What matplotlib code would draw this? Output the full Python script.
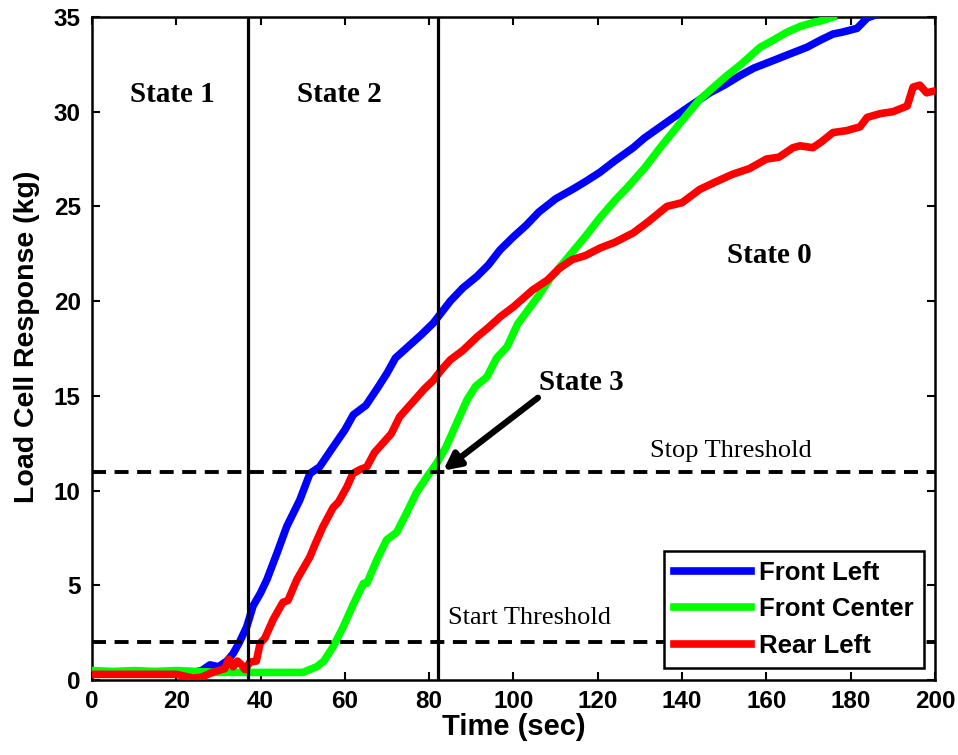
import numpy as np
import matplotlib
matplotlib.use("Agg")
import matplotlib.pyplot as plt

# Front Left (blue)
t_fl = [0, 5, 10, 15, 20, 24, 26, 28, 30, 32, 33.5, 35, 36.7, 38.2, 40, 41.5, 43.9, 46.2, 49.3, 51.7,
        54, 57.2, 60, 62, 65, 68, 70, 72, 75, 78, 81, 85, 88, 91.3, 94, 96.8, 100, 103, 106, 110,
        114, 117, 120.5, 124, 128.4, 131, 134.8, 138, 141.9, 146.6, 150, 153.7, 157, 161.6, 165,
        169.6, 173, 175.8, 178, 181.5, 183.9, 187]
v_fl = [0.35, 0.4, 0.35, 0.4, 0.35, 0.4, 0.5, 0.8, 0.7, 1.0, 1.4, 2.0, 2.8, 3.9, 4.6, 5.3, 6.7, 8.1, 9.5, 10.9,
        11.25, 12.3, 13.2, 14.0, 14.5, 15.5, 16.2, 17.0, 17.6, 18.2, 18.85, 20.0, 20.7, 21.3, 21.9, 22.7, 23.4, 24.0, 24.7, 25.4,
        25.9, 26.3, 26.8, 27.4, 28.1, 28.6, 29.2, 29.7, 30.3, 31.0, 31.4, 31.9, 32.3, 32.7, 33.0,
        33.4, 33.8, 34.1, 34.2, 34.4, 34.95, 35.2]

# Front Center (green)
t_fc = [0, 5, 10, 15, 20, 25, 30, 35, 40, 45, 50, 53.3, 55, 57.2, 59.6, 62, 64.4, 65.2, 67.5, 69.9,
        72.3, 74.6, 77, 79.4, 81.8, 84, 86.6, 89, 91, 93.7, 96, 98.5, 101, 103, 106, 108.7, 111, 114,
        117, 120.5, 124, 127, 131, 134.8, 138.8, 141, 144, 147, 150.6, 154, 158.5, 161, 164.9, 168,
        171, 173, 175.8]
v_fc = [0.5, 0.45, 0.5, 0.45, 0.5, 0.45, 0.4, 0.4, 0.4, 0.4, 0.4, 0.7, 1.0, 1.75, 2.8, 4.0, 5.1, 5.1, 6.3, 7.4,
        7.8, 8.8, 9.9, 10.7, 11.45, 12.3, 13.6, 14.8, 15.5, 16.0, 17.0, 17.6, 18.8, 19.4, 20.3, 21.2, 21.8, 22.6,
        23.4, 24.4, 25.3, 26.0, 27.0, 28.1, 29.2, 29.8, 30.6, 31.2, 31.9, 32.5, 33.4, 33.7, 34.2, 34.5,
        34.7, 34.8, 35.0]

# Rear Left (red)
t_rl = [0, 5, 10, 15, 20, 22, 24, 26, 28, 30, 31.5, 32.5, 33.5, 34.5, 35.5, 36.3, 37.5, 39, 39.9, 41,
        43, 45.3, 46.5, 48.6, 51.7, 53, 54.8, 57.2, 58.5, 60.5, 61.9, 63.5, 65.2, 67, 69, 71, 73, 75,
        77, 79, 80.9, 83, 85, 88, 91.3, 94, 97, 100, 104.6, 108, 111, 114, 117, 120.5, 124, 128.4,
        132, 136.4, 140, 144.2, 148, 152, 156, 160, 163, 166.3, 168, 171, 173, 175.8, 179, 182.2,
        183.9, 187, 190, 193.4, 194.8, 196.4, 198, 200]
v_rl = [0.3, 0.3, 0.3, 0.3, 0.3, 0.2, 0.1, 0.15, 0.35, 0.5, 0.6, 1.1, 0.7, 1.0, 0.8, 0.55, 0.95, 1.0, 1.95, 2.2,
        3.2, 4.1, 4.2, 5.3, 6.5, 7.2, 8.1, 9.1, 9.4, 10.2, 10.9, 11.1, 11.25, 12.0, 12.5, 13.0, 13.9, 14.4,
        14.9, 15.4, 15.8, 16.4, 16.9, 17.4, 18.1, 18.6, 19.2, 19.7, 20.6, 21.1, 21.75, 22.2, 22.4, 22.8, 23.1, 23.6,
        24.2, 25.0, 25.2, 25.9, 26.3, 26.7, 27.0, 27.5, 27.6, 28.1, 28.2, 28.1, 28.4, 28.9, 29.0, 29.2,
        29.7, 29.9, 30.0, 30.3, 31.3, 31.4, 31.0, 31.1]

state_bounds = [37, 82]      # vertical state boundaries (sec)
start_threshold = 2
stop_threshold = 11

sans = "Liberation Sans"
serif = "Liberation Serif"

fig = plt.figure(figsize=(9.58, 7.55), dpi=100)
ax = fig.add_axes([0.096, 0.0993, 0.880, 0.8782])

ax.plot(t_fl, v_fl, color=(0, 0, 1), lw=5.5, label="Front Left", zorder=3)
ax.plot(t_fc, v_fc, color=(0, 1, 0), lw=5.5, label="Front Center", zorder=3)
ax.plot(t_rl, v_rl, color=(1, 0, 0), lw=5.5, label="Rear Left", zorder=3)

for xb in state_bounds:
    ax.axvline(xb, color="k", lw=2.3, zorder=4)
for yt in (start_threshold, stop_threshold):
    ax.axhline(yt, color="k", lw=2.8, ls=(0, (3.6, 2.2)), zorder=4)

ax.set_xlim(0, 200)
ax.set_ylim(0, 35)
ax.set_xticks(np.arange(0, 201, 20))
ax.set_yticks(np.arange(0, 36, 5))
ax.tick_params(direction="in", length=6, width=1.5, top=True, right=True)
ax.tick_params(axis="x", pad=7)
ax.tick_params(axis="y", pad=8)
for lab in ax.get_xticklabels() + ax.get_yticklabels():
    lab.set_fontfamily(sans)
    lab.set_fontweight("bold")
    lab.set_fontsize(17.5)
for sp in ax.spines.values():
    sp.set_linewidth(1.8)

ax.set_xlabel("Time (sec)", fontfamily=sans, fontweight="bold", fontsize=21, labelpad=0)
ax.set_ylabel("Load Cell Response (kg)", fontfamily=sans, fontweight="bold", fontsize=20.5)
ax.yaxis.set_label_coords(-0.062, 0.518)

tkw = dict(fontfamily=serif, fontweight="bold", fontsize=21, ha="center", va="center")
ax.text(19, 30.9, "State 1", **tkw)
ax.text(58.8, 30.9, "State 2", **tkw)
ax.text(160.8, 22.4, "State 0", **tkw)
ax.text(116, 15.7, "State 3", **tkw)
ax.annotate("", xy=(83.3, 11.05), xytext=(105.8, 14.9),
            arrowprops=dict(arrowstyle="-|>,head_length=1.0,head_width=0.5", color="k", lw=4.5,
                            shrinkA=0, shrinkB=0), zorder=5)

ax.text(151.6, 12.1, "Stop Threshold", fontfamily=serif, fontsize=19, ha="center", va="center")
ax.text(103.7, 3.3, "Start Threshold", fontfamily=serif, fontsize=19, ha="center", va="center")

leg = ax.legend(loc="lower right", bbox_to_anchor=(0.987, 0.018), borderaxespad=0,
                fancybox=False, framealpha=1, edgecolor="k", handlelength=3.0,
                prop=dict(family=sans, weight="bold", size=18.5), labelspacing=0.48,
                borderpad=0.4, handletextpad=0.32)
leg.get_frame().set_linewidth(1.8)
leg.set_zorder(6)

fig.savefig("out.png", dpi=100)
